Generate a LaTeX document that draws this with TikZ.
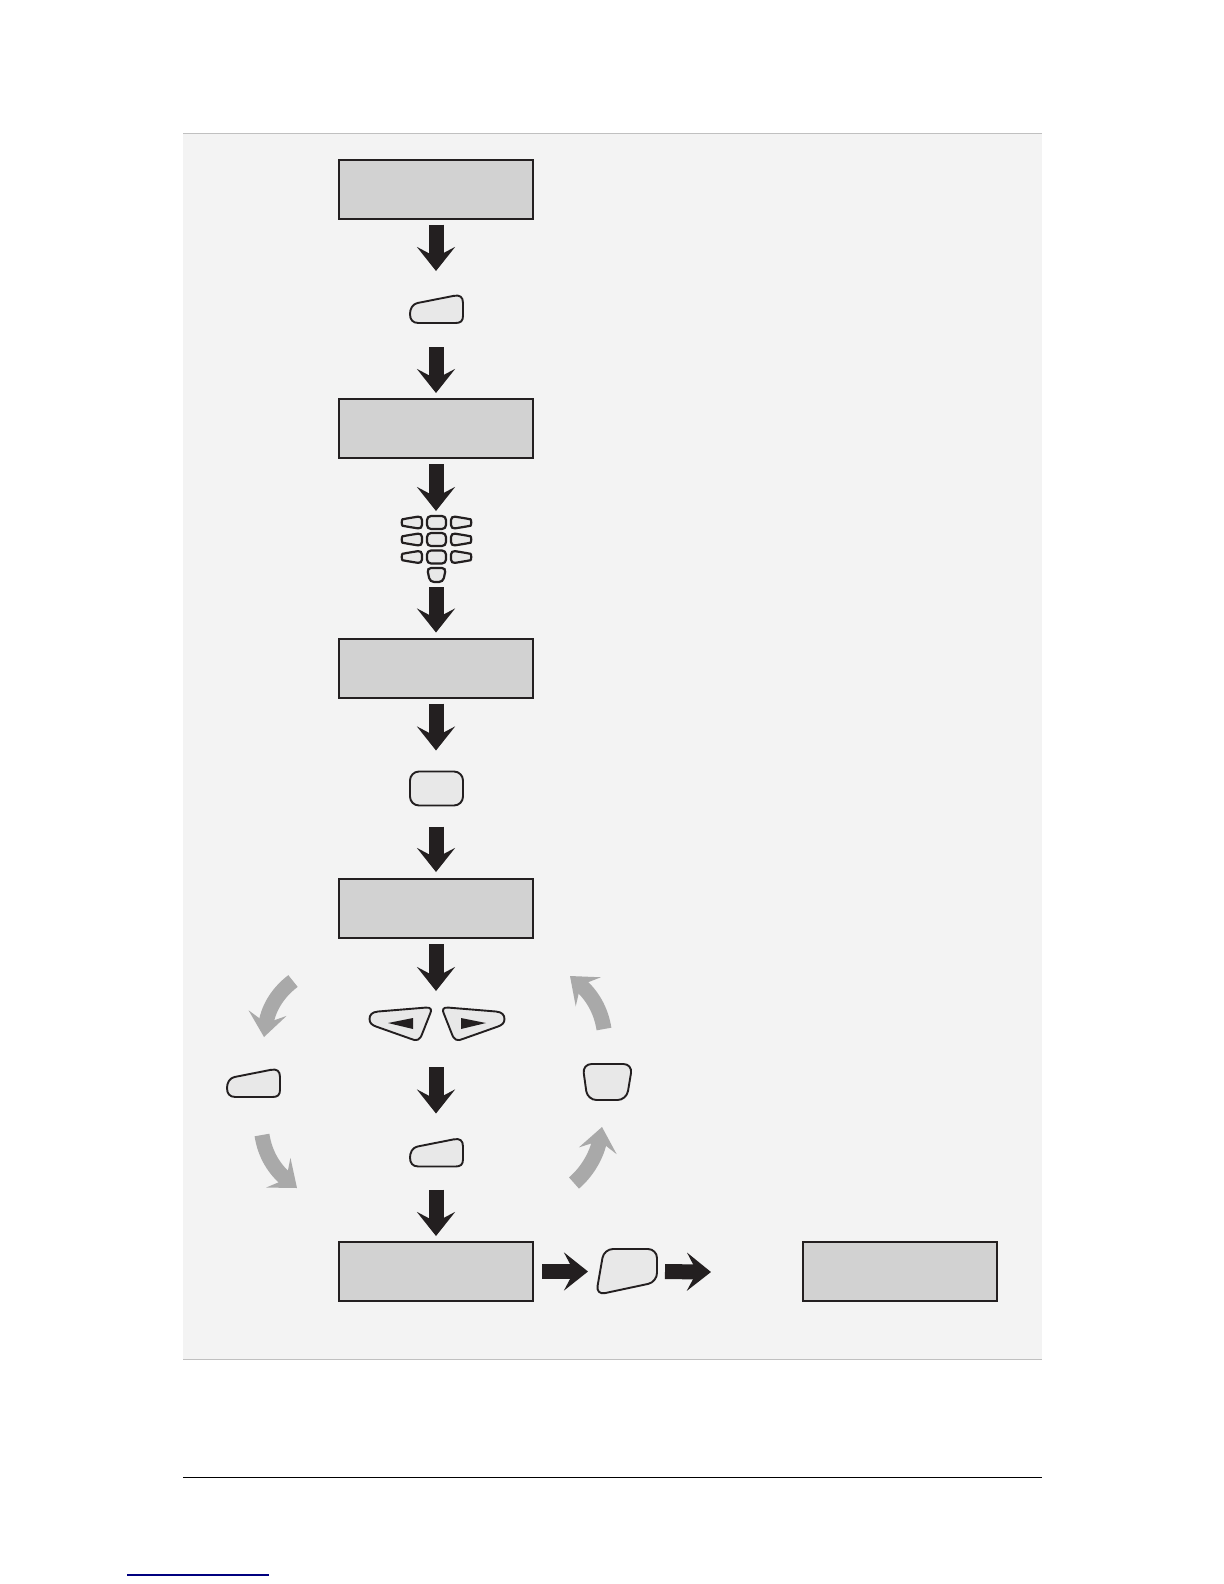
\documentclass[tikz,border=0pt]{standalone}
\usepackage{xcolor}
\usetikzlibrary{arrows.meta,positioning,calc}

\definecolor{panelgray}{HTML}{F3F3F3}
\definecolor{rulegray}{HTML}{C0C0C0}
\definecolor{lcdgray}{HTML}{D2D2D2}
\definecolor{keygray}{HTML}{E8E8E8}
\definecolor{flowgray}{HTML}{A9A9A9}
\definecolor{inkblack}{HTML}{231F20}
\definecolor{linkblue}{HTML}{00007F}

\begin{document}
\begin{tikzpicture}[
  lcd/.style={draw=inkblack, line width=0.02cm, fill=lcdgray, minimum width=1.94cm, minimum height=0.59cm, inner sep=0pt},
  spot/.style={inner sep=0pt, outer sep=0pt},
  keyface/.style={draw=inkblack, line width=0.019cm, fill=keygray, line join=round},
  keyline/.style={keyface, rounded corners=0.09cm},
  smallkey/.style={draw=inkblack, line width=0.022cm, fill=keygray, rounded corners=0.04cm},
  arrow/.style={-{Stealth[length=0.24cm, width=0.38cm, inset=0.1cm]}, line width=0.15cm, draw=inkblack},
  grayarrow/.style={-{Stealth[length=0.24cm, width=0.38cm, inset=0.1cm]}, line width=0.15cm, draw=flowgray},
  softkey/.pic={
    \node[spot, minimum width=0.53cm, minimum height=0.29cm] (-spot) {};
    \draw[keyface] (-0.19,0.055) -- (0.17,0.126) .. controls (0.235,0.14) and (0.265,0.115) .. (0.265,0.055)
      -- (0.265,-0.075) .. controls (0.265,-0.125) and (0.24,-0.145) .. (0.19,-0.145)
      -- (-0.18,-0.145) .. controls (-0.24,-0.145) and (-0.265,-0.11) .. (-0.265,-0.055)
      .. controls (-0.265,-0.005) and (-0.24,0.045) .. (-0.19,0.055) -- cycle;
  },
  enterkey/.pic={
    \node[spot, minimum width=0.53cm, minimum height=0.34cm] (-spot) {};
    \draw[keyline] (-0.265,0.17) -- (0.265,0.17) -- (0.265,-0.17) -- (-0.265,-0.17) -- cycle;
  },
  taperkey/.pic={
    \node[spot, minimum width=0.5cm, minimum height=0.36cm] (-spot) {};
    \draw[keyline] (-0.25,0.18) -- (0.25,0.18) -- (0.19,-0.18) -- (-0.2,-0.18) -- cycle;
  },
  slantkey/.pic={
    \node[spot, minimum width=0.61cm, minimum height=0.45cm] (-spot) {};
    \draw[keyline] (-0.225,0.225) -- (0.305,0.225) -- (0.305,-0.105) -- (-0.305,-0.235) -- cycle;
  },
  sidekeys/.pic={
    \node[spot, minimum width=1.34cm, minimum height=0.32cm] (-spot) {};
    % left key, then the same one mirrored
    \foreach \side/\nudge in {1/0,-1/0.01} {
      \begin{scope}[xshift=\nudge cm, xscale=\side]
        \draw[keyface] (-0.585,0.125) -- (-0.11,0.164) .. controls (-0.05,0.17) and (-0.045,0.14) .. (-0.065,0.10)
          -- (-0.14,-0.09) .. controls (-0.165,-0.165) and (-0.20,-0.175) .. (-0.26,-0.147)
          -- (-0.605,-0.025) .. controls (-0.645,-0.01) and (-0.67,0.01) .. (-0.67,0.05)
          .. controls (-0.67,0.09) and (-0.645,0.12) .. (-0.585,0.125) -- cycle;
        \fill[inkblack] (-0.485,0.01) -- (-0.235,0.06) -- (-0.235,-0.05) -- cycle;
      \end{scope}
    }
  },
  keypad/.pic={
    \node[spot, minimum width=0.67cm, minimum height=0.65cm] (-spot) {};
    \foreach \rowy in {0.27,0.10,-0.075} {
      \begin{scope}[yshift=\rowy cm]
        \draw[smallkey] (-0.30,0.04) .. controls (-0.35,0.03) and (-0.35,-0.03) .. (-0.30,-0.04) -- (-0.145,-0.065) -- (-0.145,0.065) -- cycle;
        \draw[smallkey] (-0.095,0.065) -- (0.095,0.065) -- (0.095,-0.065) -- (-0.095,-0.065) -- cycle;
        \draw[smallkey] (0.30,0.04) .. controls (0.35,0.03) and (0.35,-0.03) .. (0.30,-0.04) -- (0.145,-0.065) -- (0.145,0.065) -- cycle;
      \end{scope}
    }
    \draw[smallkey] (-0.095,-0.185) -- (0.095,-0.185) -- (0.065,-0.325) -- (-0.065,-0.325) -- cycle;
  }
]
  \useasboundingbox (0,0) rectangle (12.24,-15.84);

  % Panel
  \fill[panelgray] (1.83,-1.33) rectangle (10.42,-13.59);
  \draw[rulegray, line width=0.01cm] (1.83,-1.33) -- (10.42,-1.33);
  \draw[rulegray, line width=0.01cm] (1.83,-13.59) -- (10.42,-13.59);
  \draw[black, line width=0.01cm] (1.83,-14.77) -- (10.42,-14.77);
  \draw[linkblue, line width=0.012cm] (1.27,-15.75) -- (2.69,-15.75);

  % Nodes
  \node[lcd] (lcdone) at (4.36,-1.89) {};
  \pic (menukey) at (4.365,-3.085) {softkey};
  \node[lcd] (lcdtwo) at (4.36,-4.285) {};
  \pic (numpad) at (4.365,-5.495) {keypad};
  \node[lcd] (lcdthree) at (4.36,-6.68) {};
  \pic (enter) at (4.365,-7.885) {enterkey};
  \node[lcd] (lcdfour) at (4.36,-9.085) {};
  \pic (scroll) at (4.365,-10.24) {sidekeys};
  \pic (selectkey) at (4.365,-11.52) {softkey};
  \node[lcd] (lcdfive) at (4.36,-12.715) {};
  \pic (backkey) at (6.265,-12.715) {slantkey};
  \node[lcd] (lcdsix) at (9.00,-12.715) {};
  \coordinate (lcdsixin) at (7.11,-12.72);
  \pic (leftkey) at (2.535,-10.825) {softkey};
  \pic (rightkey) at (6.075,-10.82) {taperkey};

  % Coordinates of the gray loop
  \coordinate (looponetail) at (2.93,-9.81);
  \coordinate (looponetip) at (2.64,-10.37);
  \coordinate (looptwotail) at (2.62,-11.35);
  \coordinate (looptwotip) at (2.97,-11.88);
  \coordinate (loopthreetail) at (5.74,-11.83);
  \coordinate (loopthreetip) at (6.02,-11.27);
  \coordinate (loopfourtail) at (6.04,-10.29);
  \coordinate (loopfourtip) at (5.70,-9.76);

  % Arrows
  \draw[arrow, shorten <=0.05cm, shorten >=0.23cm] (lcdone.south) -- (menukey-spot.north -| lcdone.south);
  \draw[arrow, shorten <=0.24cm, shorten >=0.05cm] (lcdtwo.north |- menukey-spot.south) -- (lcdtwo.north);
  \draw[arrow, shorten <=0.05cm, shorten >=0.06cm] (lcdtwo.south) -- (lcdtwo.south |- numpad-spot.north);
  \draw[arrow, shorten <=0.05cm, shorten >=0.05cm] (lcdthree.north |- numpad-spot.south) -- (lcdthree.north);
  \draw[arrow, shorten <=0.05cm, shorten >=0.21cm] (lcdthree.south) -- (lcdthree.south |- enter-spot.north);
  \draw[arrow, shorten <=0.21cm, shorten >=0.06cm] (lcdfour.north |- enter-spot.south) -- (lcdfour.north);
  \draw[arrow, shorten <=0.05cm, shorten >=0.17cm] (lcdfour.south) -- (lcdfour.south |- scroll-spot.north);
  \draw[arrow, shorten <=0.27cm, shorten >=0.24cm] (lcdfour.south |- scroll-spot.south) -- (lcdfour.south |- selectkey-spot.north);
  \draw[arrow, shorten <=0.23cm, shorten >=0.05cm] (lcdfive.north |- selectkey-spot.south) -- (lcdfive.north);
  \draw[arrow, shorten <=0.08cm, shorten >=0.08cm] (lcdfive.east |- backkey-spot.west) -- (backkey-spot.west);
  \draw[arrow, shorten <=0.08cm] (backkey-spot.east) -- (lcdsixin);

  \draw[grayarrow] (looponetail) .. controls (2.76,-9.94) and (2.68,-10.10) .. (looponetip);
  \draw[grayarrow] (looptwotail) .. controls (2.65,-11.55) and (2.75,-11.70) .. (looptwotip);
  \draw[grayarrow] (loopthreetail) .. controls (5.87,-11.72) and (5.97,-11.55) .. (loopthreetip);
  \draw[grayarrow] (loopfourtail) .. controls (6.01,-10.10) and (5.92,-9.95) .. (loopfourtip);
\end{tikzpicture}
\end{document}
